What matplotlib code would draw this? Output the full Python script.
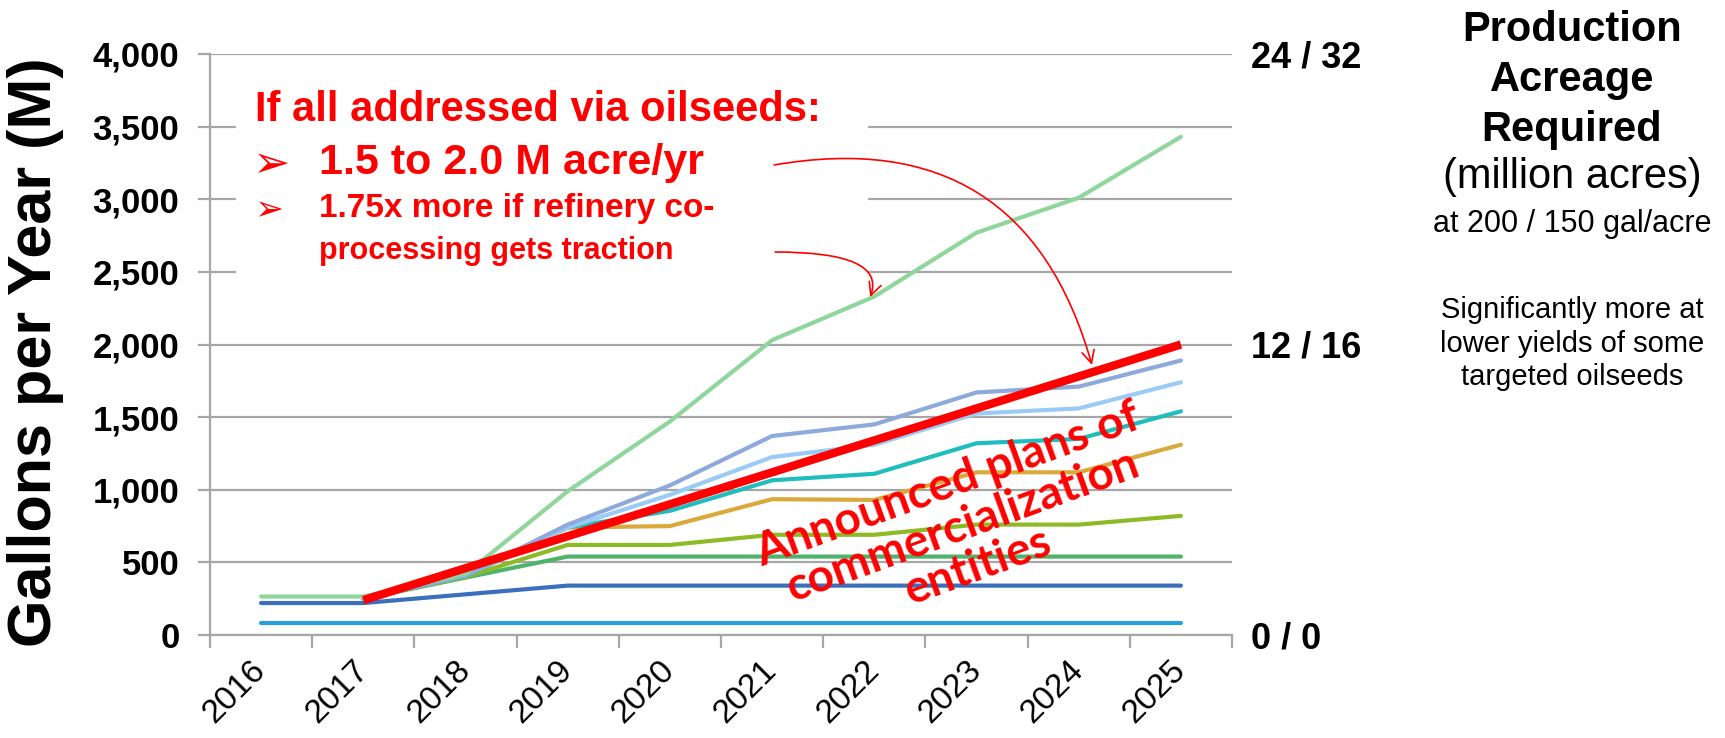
import numpy as np
import matplotlib
matplotlib.use('Agg')
import matplotlib.pyplot as plt
from matplotlib.patches import Rectangle
from matplotlib.ticker import FuncFormatter, FixedLocator

matplotlib.rcParams.update({'font.family': ['Liberation Sans', 'DejaVu Sans']})

W, H = 1725, 738

years = ['2016', '2017', '2018', '2019', '2020', '2021', '2022', '2023', '2024', '2025']
nan = np.nan
# announced plans of commercialization entities (M gal/yr)
light_green = [265, 265, 420, 990, 1470, 2030, 2330, 2770, 3010, 3430]
lavender = [nan, 250, 410, 760, 1030, 1370, 1450, 1670, 1710, 1890]
light_blue = [nan, 250, 410, 740, 965, 1225, 1310, 1525, 1560, 1740]
teal = [nan, 250, 405, 740, 855, 1065, 1110, 1320, 1350, 1540]
gold = [nan, 250, 405, 740, 750, 935, 930, 1120, 1120, 1310]
yellow_green = [nan, 250, 400, 620, 620, 690, 690, 760, 760, 820]
green = [nan, 250, 395, 540, 540, 540, 540, 540, 540, 540]
dark_blue = [220, 220, 280, 340, 340, 340, 340, 340, 340, 340]
sky_blue = [80, 80, 80, 80, 80, 80, 80, 80, 80, 80]
oilseed_trend = [nan, 240, 460, 680, 900, 1120, 1340, 1560, 1780, 2000]

series = [
    (sky_blue, '#2a9fdd'),
    (dark_blue, '#3b6fbd'),
    (green, '#4fb36b'),
    (yellow_green, '#8cbb26'),
    (gold, '#d9a93c'),
    (teal, '#1fbdbd'),
    (light_blue, '#9acbf6'),
    (lavender, '#8eaadb'),
    (light_green, '#8fd69c'),
]

right_ticks = [0, 2000, 4000]
right_labels = ['0 / 0', '12 / 16', '24 / 32']


def fx(x):
    return x / W


def fy(y):
    return 1 - y / H


fig = plt.figure(figsize=(W / 100, H / 100), dpi=100)
ax = fig.add_axes([fx(210), fy(635), (1232 - 210) / W, (635 - 54) / H])

x = np.arange(len(years))
for vals, col in series:
    ax.plot(x, vals, color=col, lw=3.0, solid_capstyle='round', zorder=3)
ax.plot(x, oilseed_trend, color='#ff0000', lw=6.0, solid_capstyle='butt', zorder=4)

grid_col = '#a6a6a6'
ax.set_xlim(-0.5, len(years) - 0.5)
ax.set_ylim(0, 4000)
ax.set_yticks(np.arange(0, 4001, 500))
ax.yaxis.set_major_formatter(FuncFormatter(lambda v, p: '{:,.0f}'.format(v)))
ax.grid(axis='y', color=grid_col, lw=1.6)
ax.set_axisbelow(True)
for s in ['top', 'right']:
    ax.spines[s].set_visible(False)
for s in ['left', 'bottom']:
    ax.spines[s].set_color(grid_col)
    ax.spines[s].set_linewidth(1.6)
ax.tick_params(axis='y', length=9, width=1.6, color=grid_col, pad=13,
               labelsize=25)
for lbl in ax.get_yticklabels():
    lbl.set_fontweight('bold')

ax.set_xticks(x)
ax.set_xticklabels(years, rotation=45, ha='right', va='center',
                   rotation_mode='anchor', fontsize=24)
ax.tick_params(axis='x', which='major', length=0, pad=22)
ax.xaxis.set_minor_locator(FixedLocator(np.arange(-0.5, len(years), 1.0)))
ax.tick_params(axis='x', which='minor', length=9, width=1.6, color=grid_col)

# right-hand acreage scale
ax2 = ax.twinx()
ax2.set_ylim(0, 4000)
ax2.set_yticks(right_ticks)
ax2.set_yticklabels(right_labels, fontsize=26, fontweight='bold')
ax2.tick_params(axis='y', length=0, pad=14)
for s in ax2.spines.values():
    s.set_visible(False)

fig.text(fx(36), fy(352), 'Gallons per Year (M)', rotation=90, fontsize=44,
         fontweight='bold', ha='center', va='center')

# white callout box hiding the gridlines behind it
ax.add_patch(Rectangle((fx(236), fy(330)), fx(868) - fx(236), fy(68) - fy(330),
                       transform=fig.transFigure, facecolor='white',
                       edgecolor='none', zorder=1, clip_on=False))

red = '#ff0000'
fig.text(fx(255), fy(110), 'If all addressed via oilseeds:', color=red,
         fontsize=30, fontweight='bold', va='center')
fig.text(fx(252), fy(165), '\u27a2', color=red, fontsize=32,
         family='DejaVu Sans', va='center')
fig.text(fx(319), fy(163), '1.5 to 2.0 M acre/yr', color=red,
         fontsize=31, fontweight='bold', va='center')
fig.text(fx(254), fy(210), '\u27a2', color=red, fontsize=25,
         family='DejaVu Sans', va='center')
fig.text(fx(319), fy(209), '1.75x more if refinery co-', color=red,
         fontsize=24, fontweight='bold', va='center')
fig.text(fx(319), fy(251), 'processing gets traction', color=red,
         fontsize=22, fontweight='bold', va='center')

ax.annotate('', xy=(8.13, 1859), xytext=(5.02, 3236),
            arrowprops=dict(arrowstyle='->,head_length=0.9,head_width=0.45',
                            color=red, lw=1.2, shrinkA=0, shrinkB=0,
                            connectionstyle='arc3,rad=-0.45'))
ax.annotate('', xy=(5.96, 2327), xytext=(5.03, 2637),
            arrowprops=dict(arrowstyle='->,head_length=0.9,head_width=0.45',
                            color=red, lw=1.2, shrinkA=0, shrinkB=0,
                            connectionstyle='angle3,angleA=0,angleB=70'))

fig.text(fx(963), fy(526), 'Announced plans of\ncommercialization\nentities',
         color=red, fontsize=33, fontweight='bold', family='Lato',
         rotation=20, ha='center', va='center', multialignment='center',
         linespacing=1.05, zorder=6)

# right-hand explanation
cx = fx(1572)
fig.text(cx, fy(30), 'Production', fontsize=30, fontweight='bold', ha='center', va='center')
fig.text(cx, fy(80), 'Acreage', fontsize=30, fontweight='bold', ha='center', va='center')
fig.text(cx, fy(130), 'Required', fontsize=30, fontweight='bold', ha='center', va='center')
fig.text(cx, fy(177), '(million acres)', fontsize=30, ha='center', va='center')
fig.text(cx, fy(224), 'at 200 / 150 gal/acre', fontsize=22, ha='center', va='center')
fig.text(cx, fy(310), 'Significantly more at', fontsize=21, ha='center', va='center')
fig.text(cx, fy(344), 'lower yields of some', fontsize=21, ha='center', va='center')
fig.text(cx, fy(377), 'targeted oilseeds', fontsize=21, ha='center', va='center')

fig.savefig('out.png', dpi=100)
